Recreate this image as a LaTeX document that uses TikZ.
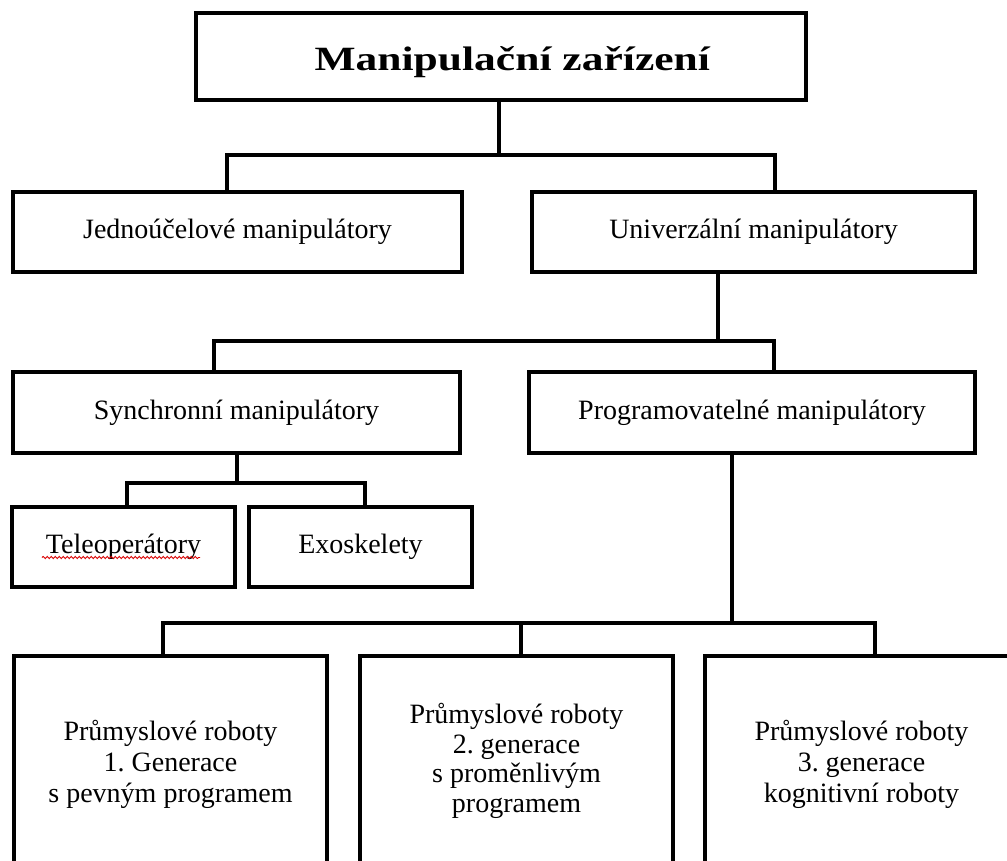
\documentclass[tikz,border=0pt]{standalone}
\usepackage{fontspec}
\setmainfont{Liberation Serif}
\usetikzlibrary{decorations.pathmorphing}
\frenchspacing
\begin{document}
\begin{tikzpicture}[x=1pt,y=-1pt,
  box/.style={draw=black, line width=3.5pt, inner sep=0pt, outer sep=0pt, align=center,
              font=\fontsize{28}{30}\selectfont},
  conn/.style={draw=black, line width=3.5pt, line join=miter}]
\useasboundingbox (0,0) rectangle (1007,861);
\fill[white] (0,0) rectangle (1007,861);
\clip (0,0) rectangle (1007,861);

% boxes
\node[box, minimum width=610pt, minimum height=87pt, text height=30pt, text depth=1pt] (top) at (500.75,56.5)
  {\hspace*{23pt}\scalebox{1.28}[1]{\fontsize{34}{36}\selectfont\bfseries Manipulační zařízení}};
\node[box, minimum width=449pt, minimum height=80pt] (jed) at (237.5,232) {Jednoúčelové manipulátory};
\node[box, minimum width=443pt, minimum height=80pt] (uni) at (753.5,232) {Univerzální manipulátory};
\node[box, minimum width=447pt, minimum height=81pt] (syn) at (236.5,412.5) {Synchronní manipulátory};
\node[box, minimum width=446pt, minimum height=81pt] (prog) at (752,412.5) {Programovatelné manipulátory};
\node[box, minimum width=223pt, minimum height=80pt] (tele) at (123.5,547) {Teleoperátory};
\node[box, minimum width=223pt, minimum height=80pt] (exo) at (360.5,547) {Exoskelety};
\node[box, minimum width=313pt, minimum height=216pt, font=\fontsize{28}{31}\selectfont] (g1) at (170.5,764)
  {Průmyslové roboty\\1. Generace\\s pevným programem};
\node[box, minimum width=313pt, minimum height=210pt, font=\fontsize{28}{29.5}\selectfont] (g2) at (516.5,761)
  {Průmyslové roboty\\2. generace\\s proměnlivým\\programem};
\node[box, minimum width=313pt, minimum height=216pt, font=\fontsize{28}{31}\selectfont] (g3) at (861.5,764)
  {Průmyslové roboty\\3. generace\\kognitivní roboty};

% spell-check underline
\draw[red!85!black, line width=0.9pt, decorate,
      decoration={snake, amplitude=1.1pt, segment length=4pt}] (42,557.5) -- (200,557.5);

% junction coordinates
\coordinate (j1) at (499,155);
\coordinate (a1) at (227,155);
\coordinate (b1) at (775,155);
\coordinate (j2) at (718,341);
\coordinate (a2) at (214,341);
\coordinate (b2) at (774,341);
\coordinate (j3) at (237,483);
\coordinate (a3) at (127,483);
\coordinate (b3) at (365,483);
\coordinate (j4) at (732,623);
\coordinate (a4) at (163,623);
\coordinate (m4) at (521,623);
\coordinate (b4) at (875,623);

% connectors
\draw[conn] (top.south -| j1) -- (j1);
\draw[conn] (a1 |- jed.north) -- (a1) -- (b1) -- (b1 |- uni.north);

\draw[conn] (uni.south -| j2) -- (j2);
\draw[conn] (a2 |- syn.north) -- (a2) -- (b2) -- (b2 |- prog.north);

\draw[conn] (syn.south -| j3) -- (j3);
\draw[conn] (a3 |- tele.north) -- (a3) -- (b3) -- (b3 |- exo.north);

\draw[conn] (prog.south -| j4) -- (j4);
\draw[conn] (a4 |- g1.north) -- (a4) -- (b4) -- (b4 |- g3.north);
\draw[conn] (m4) -- (m4 |- g2.north);
\end{tikzpicture}
\end{document}
